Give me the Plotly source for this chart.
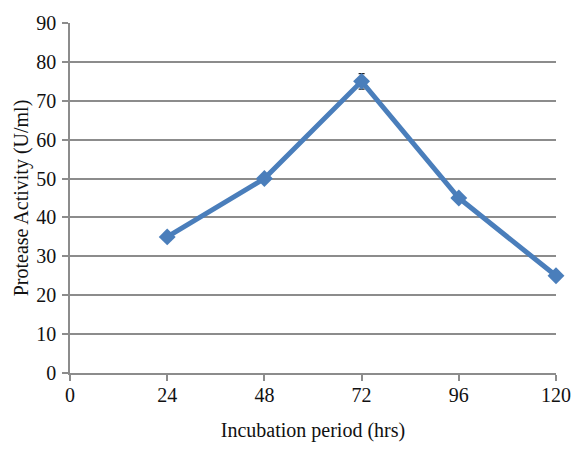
import plotly.graph_objects as go

hours = [24, 48, 72, 96, 120]
activity = [35, 50, 75, 45, 25]
errors = [0.8, 0.9, 2.0, 0.9, 0.9]
x_ticks = [0, 24, 48, 72, 96, 120]
y_ticks = [0, 10, 20, 30, 40, 50, 60, 70, 80, 90]

fig = go.Figure()
fig.add_trace(go.Scatter(
    x=hours, y=activity,
    mode="lines+markers",
    line=dict(color="#4A7EBB", width=5),
    marker=dict(symbol="diamond", size=13, color="#4A7EBB"),
    error_y=dict(type="data", array=errors, visible=True, color="#222222", thickness=1.2, width=3),
    showlegend=False,
    cliponaxis=False,
))

serif = "Liberation Serif"
font = dict(family=serif, size=20, color="#111111")
fig.update_layout(
    width=583, height=450,
    margin=dict(l=70, r=19, t=23, b=76),
    paper_bgcolor="white", plot_bgcolor="white",
    font=font,
    xaxis=dict(
        range=[0, 120], tickvals=x_ticks, ticktext=[str(v) for v in x_ticks],
        tickfont=font,
        showgrid=False, zeroline=False, showline=True, linecolor="#8C8C8C", linewidth=1.5,
        ticks="outside", ticklen=6, tickcolor="#8C8C8C", tickwidth=1.5,
        ticklabelstandoff=-3,
        title=dict(text="Incubation period (hrs)", font=font, standoff=18),
    ),
    yaxis=dict(
        range=[0, 90], tickvals=y_ticks,
        tickfont=font,
        showgrid=True, gridcolor="#8C8C8C", gridwidth=1.5,
        zeroline=False, showline=True, linecolor="#8C8C8C", linewidth=1.5,
        ticks="outside", ticklen=6, tickcolor="#8C8C8C", tickwidth=1.5,
        ticklabelstandoff=2,
        title=dict(text="Protease Activity (U/ml)", font=font, standoff=2),
    ),
)
fig.write_html("out.html", post_script="document.body.style.margin='0';",
               config={"displayModeBar": False})
